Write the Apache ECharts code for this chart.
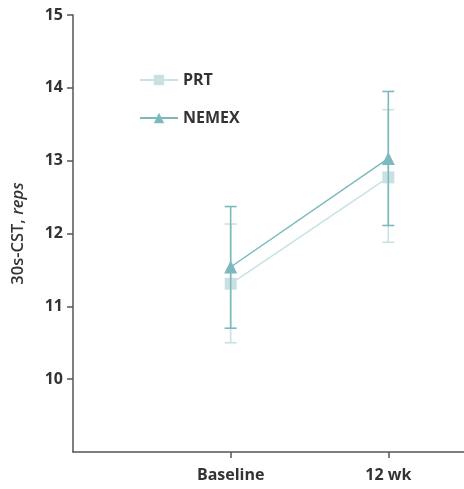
<!DOCTYPE html>
<html>
<head>
<meta charset="utf-8">
<script src="https://cdn.jsdelivr.net/npm/echarts@6/dist/echarts.min.js"></script>
<style>
  html, body { margin: 0; padding: 0; background: #fff; }
  #chart { width: 464px; height: 489px; }
</style>
</head>
<body>
<div id="chart"></div>
<script>
const timepoints = ["Baseline", "12 wk"];
const yTicks = [10, 11, 12, 13, 14, 15];

const prtMean = [11.31, 12.77];
const prtLow = [10.5, 11.88];
const prtHigh = [12.13, 13.7];

const nemexMean = [11.54, 13.03];
const nemexLow = [10.7, 12.11];
const nemexHigh = [12.37, 13.95];

const PRT_COLOR = "#c9e1e3";
const NEMEX_COLOR = "#7bb9bd";
const TEXT = "#333333";
const FONT = "Open Sans";

// x position of each timepoint is its index + 1
const pts = (vals) => vals.map((v, i) => [i + 1, v]);
const bars = (lo, hi) => lo.map((v, i) => [i + 1, v, hi[i]]);

function errorBar(color) {
	return function (params, api) {
		const x = api.value(0);
		const lo = api.coord([x, api.value(1)]);
		const hi = api.coord([x, api.value(2)]);
		const w = 6;
		const style = { stroke: color, lineWidth: 1.6 };
		return {
			type: "group",
			children: [
				{ type: "line", shape: { x1: lo[0], y1: lo[1], x2: hi[0], y2: hi[1] }, style },
				{ type: "line", shape: { x1: lo[0] - w, y1: lo[1], x2: lo[0] + w, y2: lo[1] }, style },
				{ type: "line", shape: { x1: hi[0] - w, y1: hi[1], x2: hi[0] + w, y2: hi[1] }, style },
			],
		};
	};
}

const option = {
	animation: false,
	grid: { left: 73, right: 0, top: 15, bottom: 37, outerBoundsMode: "none" },
	legend: {
		data: ["PRT", "NEMEX"],
		orient: "vertical",
		left: 134,
		top: 67,
		itemGap: 22,
		itemWidth: 38,
		itemHeight: 13,
		textStyle: { color: TEXT, fontFamily: FONT, fontSize: 16, fontWeight: "bold" },
	},
	xAxis: {
		type: "value",
		min: 0,
		max: 2.48,
		interval: 1,
		axisLine: { lineStyle: { color: "#555", width: 1.5 } },
		axisTick: { customValues: [1, 2], length: 6, lineStyle: { color: "#555", width: 1.5 } },
		axisLabel: {
			customValues: [1, 2],
			margin: 15,
			color: TEXT,
			fontFamily: FONT,
			fontSize: 16,
			fontWeight: "bold",
			formatter: (v) => timepoints[Math.round(v) - 1] || "",
		},
		splitLine: { show: false },
	},
	yAxis: {
		type: "value",
		min: 9,
		max: 15,
		interval: 1,
		name: "{a|30s-CST, }{b|reps}",
		nameLocation: "middle",
		nameRotate: 90,
		nameGap: 46,
		nameTextStyle: {
			rich: {
				a: { color: TEXT, fontFamily: FONT, fontSize: 16.5, fontWeight: 600 },
				b: { color: TEXT, fontFamily: FONT, fontSize: 16.5, fontWeight: 600, fontStyle: "italic" },
			},
		},
		axisLine: { show: true, lineStyle: { color: "#555", width: 1.5 } },
		axisTick: { show: true, customValues: yTicks, length: 6, lineStyle: { color: "#555", width: 1.5 } },
		axisLabel: {
			customValues: yTicks,
			margin: 10,
			color: TEXT,
			fontFamily: FONT,
			fontSize: 16,
			fontWeight: "bold",
		},
		splitLine: { show: false },
	},
	series: [
		{
			name: "PRT-err",
			type: "custom",
			z: 1,
			renderItem: errorBar(PRT_COLOR),
			data: bars(prtLow, prtHigh),
		},
		{
			name: "PRT",
			type: "line",
			z: 2,
			symbol: "rect",
			symbolSize: 12,
			color: PRT_COLOR,
			lineStyle: { color: PRT_COLOR, width: 1.5 },
			itemStyle: { color: PRT_COLOR },
			data: pts(prtMean),
		},
		{
			name: "NEMEX-err",
			type: "custom",
			z: 3,
			renderItem: errorBar(NEMEX_COLOR),
			data: bars(nemexLow, nemexHigh),
		},
		{
			name: "NEMEX",
			type: "line",
			z: 4,
			symbol: "triangle",
			symbolSize: 13,
			color: NEMEX_COLOR,
			lineStyle: { color: NEMEX_COLOR, width: 1.5 },
			itemStyle: { color: NEMEX_COLOR },
			data: pts(nemexMean),
		},
	],
};

const chart = echarts.init(document.getElementById("chart"));
chart.setOption(option);
</script>
</body>
</html>
